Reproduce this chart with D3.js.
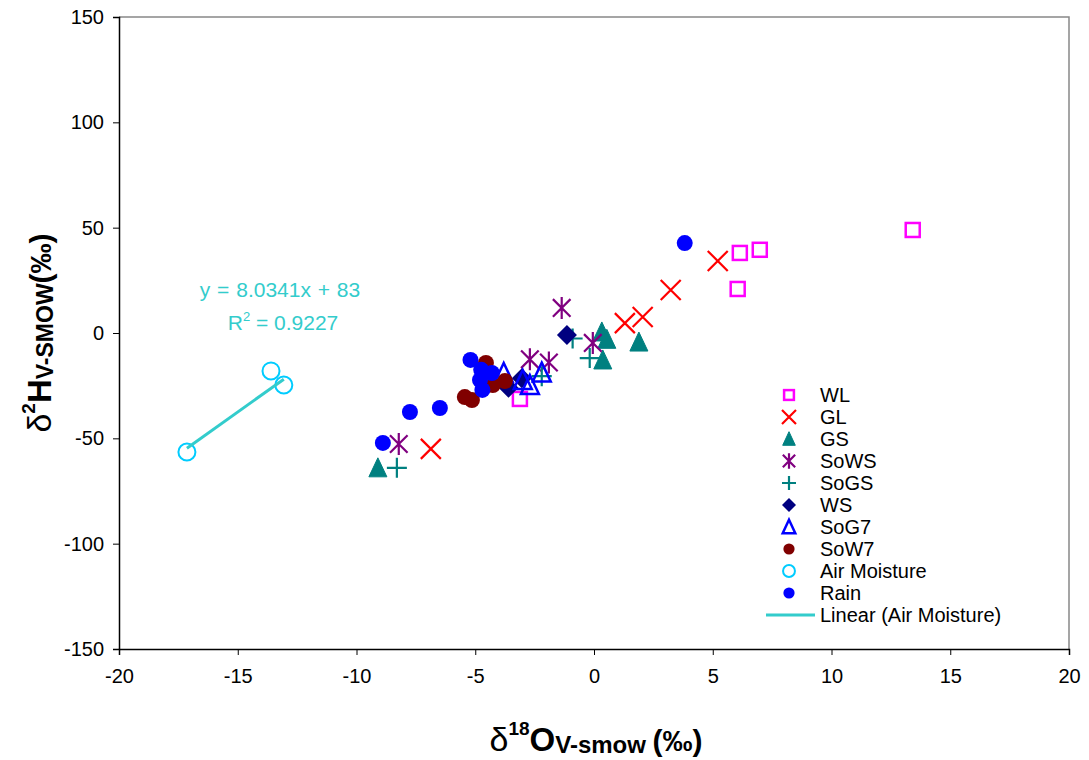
<!DOCTYPE html>
<html lang="en">
<head>
  <meta charset="UTF-8">
  <title>d18O vs d2H</title>
  <script src="https://d3js.org/d3.v7.min.js"></script>
  <style>
    body { margin: 0; background: #fff; font-family: "Liberation Sans", Arial, sans-serif; }
    svg { display: block; }
    .tick text { font-size: 20px; fill: #000; }
    .legend text { font-size: 20px; fill: #000; }
  </style>
</head>
<body>
  <svg width="1089" height="760"></svg>
  <script>
    // series as [d18O, d2H]
    const wl = [[13.42, 48.9], [6.14, 38], [6.98, 39.5], [6.05, 20.9], [-3.12, -31.3]];
    const gl = [[5.21, 34.2], [3.23, 20.4], [2.05, 7.6], [1.3, 4.7], [-6.87, -55]];
    const gs = [[-9.1, -64], [0.33, 0.5], [0.54, -3], [1.89, -4.3], [0.37, -12.8]];
    const sows = [[-1.36, 11.9], [-0.05, -4.7], [-2.7, -12.5], [-1.9, -14], [-8.22, -52.7]];
    const sogs = [[-8.3, -64], [-0.18, -11.9], [-0.9, -2.6], [-2.2, -20.5]];
    const ws = [[-1.14, -1], [-3.04, -21.5], [-3.6, -26]];
    const sog7 = [[-3.8, -19], [-3.0, -22.3], [-2.7, -24.7], [-2.2, -18.8]];
    const sow7 = [[-4.55, -14.2], [-3.75, -22.8], [-4.26, -24.7], [-5.44, -30.4], [-5.14, -31.8]];
    const airMoisture = [[-17.14, -56.5], [-13.6, -18], [-13.06, -24.7]];
    const rain = [[3.82, 42.7], [-5.2, -12.8], [-4.75, -17.5], [-4.3, -19], [-4.8, -22.3], [-4.7, -27], [-6.49, -35.6], [-7.75, -37.5], [-8.89, -52.2]];

    const trendSlope = 8.0341, trendIntercept = 83, trendR2 = 0.9227;
    const xTicks = [-20, -15, -10, -5, 0, 5, 10, 15, 20];
    const yTicks = [-150, -100, -50, 0, 50, 100, 150];

    const series = [
      { name: "WL", data: wl, shape: "square", color: "#FF00FF" },
      { name: "GL", data: gl, shape: "x", color: "#FF0000" },
      { name: "GS", data: gs, shape: "triangle", color: "#008080" },
      { name: "SoWS", data: sows, shape: "star", color: "#800080" },
      { name: "SoGS", data: sogs, shape: "plus", color: "#008080" },
      { name: "WS", data: ws, shape: "diamond", color: "#000080" },
      { name: "SoG7", data: sog7, shape: "opentriangle", color: "#0000FF" },
      { name: "SoW7", data: sow7, shape: "circle", color: "#800000" },
      { name: "Air Moisture", data: airMoisture, shape: "opencircle", color: "#00CCFF" },
      { name: "Rain", data: rain, shape: "circle", color: "#0000FF" }
    ];

    const svg = d3.select("svg");
    const plotL = 119, plotR = 1069, plotT = 17, plotB = 649;

    const x = d3.scaleLinear().domain([-20, 20]).range([plotL, plotR]);
    const y = d3.scaleLinear().domain([-150, 150]).range([plotB, plotT]);

    // plot frame: grey top and right
    svg.append("path")
      .attr("d", `M${plotL},${plotT}H${plotR}V${plotB}`)
      .attr("fill", "none").attr("stroke", "#888").attr("stroke-width", 1.5);

    const xAxis = svg.append("g")
      .attr("transform", `translate(0,${plotB})`)
      .call(d3.axisBottom(x).tickValues(xTicks).tickFormat(d => String(d)).tickSize(6).tickPadding(14));
    const yAxis = svg.append("g")
      .attr("transform", `translate(${plotL},0)`)
      .call(d3.axisLeft(y).tickValues(yTicks).tickFormat(d => String(d)).tickSize(6).tickPadding(9));
    [xAxis, yAxis].forEach(g => {
      g.select(".domain").attr("stroke", "#000").attr("stroke-width", 1.5);
      g.selectAll(".tick line").attr("stroke", "#000");
      g.selectAll(".tick text").attr("font-family", "Liberation Sans, Arial, sans-serif");
    });

    function drawMarker(g, shape, color, s) {
      s = s || 1;
      if (shape === "square") {
        g.append("rect").attr("x", -7 * s).attr("y", -7 * s).attr("width", 14 * s).attr("height", 14 * s)
          .attr("fill", "none").attr("stroke", color).attr("stroke-width", 2.5);
      } else if (shape === "x") {
        const r = 10 * s;
        g.append("path").attr("d", `M${-r},${-r}L${r},${r}M${-r},${r}L${r},${-r}`)
          .attr("stroke", color).attr("stroke-width", 2.2).attr("fill", "none");
      } else if (shape === "triangle" || shape === "opentriangle") {
        const h = 9 * s;
        const open = shape === "opentriangle";
        g.append("path").attr("d", `M0,${-h - 1}L${h},${h}L${-h},${h}Z`)
          .attr("fill", open ? "none" : color)
          .attr("stroke", color).attr("stroke-width", open ? 2.5 : 1);
      } else if (shape === "star") {
        const r = 11 * s, d = r * 0.8;
        g.append("path").attr("d", `M0,${-r}V${r}M${-d},${-d}L${d},${d}M${-d},${d}L${d},${-d}`)
          .attr("stroke", color).attr("stroke-width", 2.2).attr("fill", "none");
      } else if (shape === "plus") {
        const r = 10 * s;
        g.append("path").attr("d", `M0,${-r}V${r}M${-r},0H${r}`)
          .attr("stroke", color).attr("stroke-width", 2.2).attr("fill", "none");
      } else if (shape === "diamond") {
        const r = 10 * s;
        g.append("path").attr("d", `M0,${-r}L${r},0L0,${r}L${-r},0Z`).attr("fill", color);
      } else if (shape === "circle") {
        g.append("circle").attr("r", 8 * s).attr("fill", color);
      } else if (shape === "opencircle") {
        g.append("circle").attr("r", 8.5 * s).attr("fill", "none")
          .attr("stroke", color).attr("stroke-width", 2);
      }
    }

    series.forEach(sr => {
      sr.data.forEach(d => {
        const g = svg.append("g").attr("transform", `translate(${x(d[0])},${y(d[1])})`);
        drawMarker(g, sr.shape, sr.color);
      });
    });

    // linear trendline for Air Moisture
    const trendColor = "#33CCCC";
    const ax = d3.extent(airMoisture, d => d[0]);
    svg.append("line")
      .attr("x1", x(ax[0])).attr("y1", y(trendSlope * ax[0] + trendIntercept))
      .attr("x2", x(ax[1])).attr("y2", y(trendSlope * ax[1] + trendIntercept))
      .attr("stroke", trendColor).attr("stroke-width", 3);

    svg.append("text").attr("x", 280).attr("y", 297).attr("text-anchor", "middle")
      .attr("font-size", 21).attr("fill", trendColor).attr("word-spacing", 1)
      .text(`y = ${trendSlope}x + ${trendIntercept}`);
    const r2 = svg.append("text").attr("x", 283).attr("y", 330).attr("text-anchor", "middle")
      .attr("font-size", 21).attr("fill", trendColor);
    r2.append("tspan").text("R");
    r2.append("tspan").attr("dy", -9).attr("font-size", 13).text("2");
    r2.append("tspan").attr("dy", 9).text(` = ${trendR2}`);

    // legend
    const legend = svg.append("g").attr("class", "legend");
    series.forEach((sr, i) => {
      const ly = 395 + i * 22;
      const g = legend.append("g").attr("transform", `translate(789,${ly})`);
      drawMarker(g, sr.shape, sr.color, 0.7);
      legend.append("text").attr("x", 820).attr("y", ly + 7).text(sr.name);
    });
    const lly = 395 + series.length * 22;
    legend.append("line").attr("x1", 766).attr("x2", 815).attr("y1", lly).attr("y2", lly)
      .attr("stroke", trendColor).attr("stroke-width", 3);
    legend.append("text").attr("x", 820).attr("y", lly + 7).text("Linear (Air Moisture)");

    // axis titles
    const xt = svg.append("text").attr("x", 596).attr("y", 751).attr("text-anchor", "middle")
      .attr("font-weight", "bold").attr("fill", "#000");
    xt.append("tspan").attr("font-size", 34).attr("font-weight", "normal").text("δ");
    xt.append("tspan").attr("font-size", 19).attr("dy", -16).text("18");
    xt.append("tspan").attr("font-size", 33).attr("dy", 16).text("O");
    xt.append("tspan").attr("font-size", 24).attr("dy", 2).text("V-smow ");
    xt.append("tspan").attr("font-size", 30).attr("dy", -2).text("(‰)");

    const yt = svg.append("text").attr("transform", `translate(51,${(plotT + plotB) / 2}) rotate(-90)`)
      .attr("text-anchor", "middle").attr("font-weight", "bold").attr("fill", "#000");
    yt.append("tspan").attr("font-size", 34).attr("font-weight", "normal").text("δ");
    yt.append("tspan").attr("font-size", 19).attr("dy", -16).text("2");
    yt.append("tspan").attr("font-size", 33).attr("dy", 16).text("H");
    yt.append("tspan").attr("font-size", 23).attr("dy", 2).text("V-SMOW");
    yt.append("tspan").attr("font-size", 30).attr("dy", -2).text("(‰)");
  </script>
</body>
</html>
